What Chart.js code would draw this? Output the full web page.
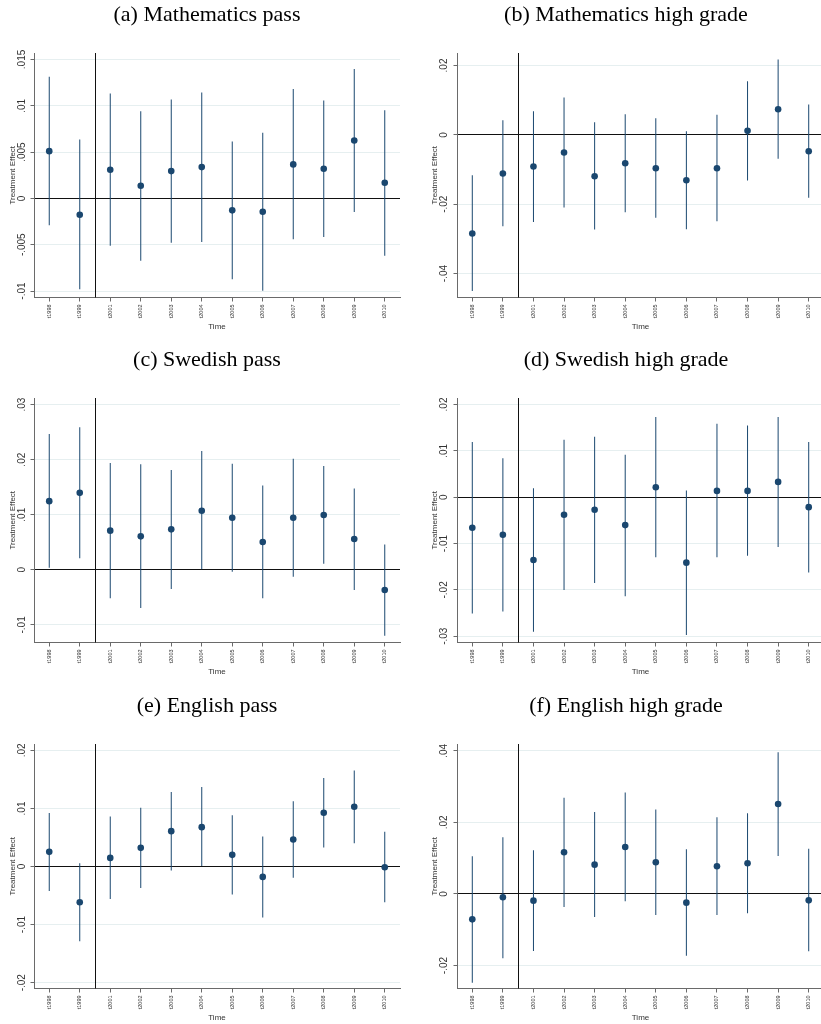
<!DOCTYPE html>
<html>
<head>
<meta charset="utf-8">
<script src="https://cdn.jsdelivr.net/npm/chart.js@4.4.1/dist/chart.umd.min.js"></script>
<style>
  html, body { margin: 0; padding: 0; background: #ffffff; width: 821px; height: 1024px; overflow: hidden; }
  canvas { position: absolute; }
</style>
</head>
<body>
<canvas id="panelA"></canvas>
<canvas id="panelB"></canvas>
<canvas id="panelC"></canvas>
<canvas id="panelD"></canvas>
<canvas id="panelE"></canvas>
<canvas id="panelF"></canvas>
<script>
// Event-study years (2000 is the omitted reference year)
const years = ['t1998', 't1999', 't2001', 't2002', 't2003', 't2004', 't2005', 't2006', 't2007', 't2008', 't2009', 't2010'];
// Reform timing: vertical marker between t1999 and t2001
const reformPosition = 1.5;

// (a) Mathematics pass
const mathPassEst  = [0.0051, -0.00176, 0.00309, 0.00137, 0.00295, 0.00338, -0.00129, -0.00144, 0.00367, 0.0032, 0.00626, 0.00169];
const mathPassLow  = [-0.00291, -0.00982, -0.00511, -0.00673, -0.00478, -0.00471, -0.00874, -0.00996, -0.00442, -0.00417, -0.00147, -0.00619];
const mathPassHigh = [0.01313, 0.00637, 0.01133, 0.00942, 0.01068, 0.01144, 0.00615, 0.00709, 0.0118, 0.01058, 0.01396, 0.00953];
const mathPassTicks = [-0.01, -0.005, 0, 0.005, 0.01, 0.015];
const mathPassTickLabels = ['-.01', '-.005', '0', '.005', '.01', '.015'];

// (b) Mathematics high grade
const mathHighEst  = [-0.02846, -0.01115, -0.00913, -0.0051, -0.01192, -0.00817, -0.00962, -0.01308, -0.00962, 0.00115, 0.0074, -0.00471];
const mathHighLow  = [-0.045, -0.02635, -0.0251, -0.02096, -0.02731, -0.02231, -0.02394, -0.02721, -0.0249, -0.01317, -0.00692, -0.01817];
const mathHighHigh = [-0.01163, 0.00423, 0.00683, 0.01077, 0.00365, 0.00596, 0.00481, 0.00106, 0.00577, 0.01548, 0.02173, 0.00875];
const mathHighTicks = [-0.04, -0.02, 0, 0.02];
const mathHighTickLabels = ['-.04', '-.02', '0', '.02'];

// (c) Swedish pass
const swePassEst  = [0.01247, 0.01398, 0.00711, 0.00608, 0.00735, 0.01072, 0.00946, 0.00506, 0.00946, 0.00994, 0.0056, -0.00367];
const swePassLow  = [0.00036, 0.00211, -0.00518, -0.00693, -0.00349, 0.0, -0.00036, -0.00518, -0.00127, 0.00108, -0.00367, -0.01199];
const swePassHigh = [0.02464, 0.0259, 0.0194, 0.01916, 0.01813, 0.02157, 0.01928, 0.0153, 0.02018, 0.01886, 0.01476, 0.00458];
const swePassTicks = [-0.01, 0, 0.01, 0.02, 0.03];
const swePassTickLabels = ['-.01', '0', '.01', '.02', '.03'];

// (d) Swedish high grade
const sweHighEst  = [-0.0066, -0.0081, -0.01355, -0.0038, -0.00272, -0.00602, 0.00215, -0.01412, 0.00136, 0.00136, 0.0033, -0.00215];
const sweHighLow  = [-0.02509, -0.02466, -0.02903, -0.02, -0.0185, -0.02136, -0.01297, -0.02975, -0.01297, -0.01262, -0.01075, -0.01627];
const sweHighHigh = [0.0119, 0.00839, 0.00194, 0.0124, 0.01305, 0.00918, 0.01728, 0.00143, 0.01584, 0.01548, 0.01728, 0.0119];
const sweHighTicks = [-0.03, -0.02, -0.01, 0, 0.01, 0.02];
const sweHighTickLabels = ['-.03', '-.02', '-.01', '0', '.01', '.02'];

// (e) English pass
const engPassEst  = [0.00253, -0.00615, 0.00149, 0.00322, 0.00609, 0.00678, 0.00201, -0.00178, 0.00466, 0.00925, 0.01029, -0.00011];
const engPassLow  = [-0.0042, -0.01287, -0.00557, -0.00368, -0.00069, 0.0, -0.00483, -0.00879, -0.00195, 0.00328, 0.00402, -0.00615];
const engPassHigh = [0.0092, 0.00057, 0.00862, 0.01011, 0.01282, 0.01368, 0.00885, 0.00517, 0.01126, 0.01523, 0.01655, 0.00598];
const engPassTicks = [-0.02, -0.01, 0, 0.01, 0.02];
const engPassTickLabels = ['-.02', '-.01', '0', '.01', '.02'];

// (f) English high grade
const engHighEst  = [-0.00708, -0.00093, -0.00186, 0.01164, 0.0082, 0.01313, 0.00885, -0.00242, 0.00773, 0.00857, 0.02515, -0.00177];
const engHighLow  = [-0.02478, -0.01798, -0.01593, -0.00363, -0.00643, -0.00205, -0.00587, -0.01723, -0.00587, -0.0054, 0.01062, -0.01602];
const engHighHigh = [0.01053, 0.01584, 0.0122, 0.02692, 0.02292, 0.02832, 0.02357, 0.01248, 0.02143, 0.02254, 0.03959, 0.01267];
const engHighTicks = [-0.02, 0, 0.02, 0.04];
const engHighTickLabels = ['-.02', '0', '.02', '.04'];

const NAVY = '#1a476f';
const GRID = '#e6eff0';
const AXIS = '#6a6a6a';
const TEXT = '#333333';
const SANS = '"Liberation Sans", Arial, sans-serif';
const SERIF = '"Liberation Serif", "Times New Roman", serif';
const Y_TICK_LEN = 3.5;

// Vertical line marking the reform
const reformLine = {
  id: 'reformLine',
  beforeDatasetsDraw(chart) {
    const { ctx, chartArea, scales } = chart;
    const px = Math.round(scales.x.getPixelForValue(reformPosition)) + 0.5;
    ctx.save();
    ctx.strokeStyle = '#111111';
    ctx.lineWidth = 1;
    ctx.beginPath();
    ctx.moveTo(px, chartArea.top);
    ctx.lineTo(px, chartArea.bottom);
    ctx.stroke();
    ctx.restore();
  }
};

const measureCtx = document.createElement('canvas').getContext('2d');
measureCtx.font = '10px ' + SANS;

const panels = [
  { id: 'panelA', title: '(a) Mathematics pass', est: mathPassEst, low: mathPassLow, high: mathPassHigh,
    ticks: mathPassTicks, tickLabels: mathPassTickLabels, min: -0.0107, max: 0.0157, col: 0, row: 0 },
  { id: 'panelB', title: '(b) Mathematics high grade', est: mathHighEst, low: mathHighLow, high: mathHighHigh,
    ticks: mathHighTicks, tickLabels: mathHighTickLabels, min: -0.0469, max: 0.0236, col: 1, row: 0 },
  { id: 'panelC', title: '(c) Swedish pass', est: swePassEst, low: swePassLow, high: swePassHigh,
    ticks: swePassTicks, tickLabels: swePassTickLabels, min: -0.0132, max: 0.0312, col: 0, row: 1 },
  { id: 'panelD', title: '(d) Swedish high grade', est: sweHighEst, low: sweHighLow, high: sweHighHigh,
    ticks: sweHighTicks, tickLabels: sweHighTickLabels, min: -0.03135, max: 0.0214, col: 1, row: 1 },
  { id: 'panelE', title: '(e) English pass', est: engPassEst, low: engPassLow, high: engPassHigh,
    ticks: engPassTicks, tickLabels: engPassTickLabels, min: -0.0210, max: 0.0211, col: 0, row: 2 },
  { id: 'panelF', title: '(f) English high grade', est: engHighEst, low: engHighLow, high: engHighHigh,
    ticks: engHighTicks, tickLabels: engHighTickLabels, min: -0.0264, max: 0.0419, col: 1, row: 2 }
];

const rowTops = [0, 345, 691];
const PANEL_H = 345;
const columns = [
  { left: 0,   width: 414, pad: 14, yWidth: 20, labelCenter: 11.6, yTitleX: 12.7 },
  { left: 410, width: 432, pad: 18, yWidth: 29, labelCenter: 13.0, yTitleX: 25.0 }
];

panels.forEach(p => {
  const col = columns[p.col];
  const canvas = document.getElementById(p.id);
  canvas.width = col.width;
  canvas.height = PANEL_H;
  canvas.style.left = col.left + 'px';
  canvas.style.top = rowTops[p.row] + 'px';
  canvas.style.width = col.width + 'px';
  canvas.style.height = PANEL_H + 'px';

  const widest = Math.max(...p.tickLabels.map(s => measureCtx.measureText(s).width));
  const yLabelPad = col.labelCenter - Y_TICK_LEN - widest / 2;
  const yTitlePad = col.yTitleX - col.pad - 4.8;

  new Chart(canvas, {
    type: 'bar',
    data: {
      labels: years,
      datasets: [
        {
          type: 'line',
          data: p.est,
          showLine: false,
          pointRadius: 3.3,
          pointHoverRadius: 3.3,
          pointBackgroundColor: NAVY,
          pointBorderWidth: 0,
          order: 0
        },
        {
          type: 'bar',
          data: p.low.map((lo, i) => [lo, p.high[i]]),
          backgroundColor: NAVY,
          barThickness: 1,
          inflateAmount: 0,
          borderWidth: 0,
          order: 1
        }
      ]
    },
    options: {
      responsive: false,
      animation: false,
      devicePixelRatio: 1,
      events: [],
      layout: { padding: { left: col.pad, right: col.pad, top: 0, bottom: 0 } },
      plugins: {
        legend: { display: false },
        tooltip: { enabled: false },
        title: {
          display: true,
          text: p.title,
          color: '#000000',
          font: { family: SERIF, size: 22, weight: 'normal' },
          padding: { top: 2, bottom: 24.6 }
        }
      },
      scales: {
        x: {
          type: 'category',
          offset: true,
          grid: { offset: false, drawOnChartArea: false, tickLength: 4, tickColor: AXIS, tickWidth: 1 },
          border: { color: AXIS, width: 1 },
          ticks: {
            autoSkip: false, minRotation: 90, maxRotation: 90, padding: 3,
            color: TEXT, font: { family: SANS, size: 5.5 }
          },
          title: {
            display: true, text: 'Time', color: TEXT,
            font: { family: SANS, size: 8 }, padding: { top: 0, bottom: 13.2 }
          },
          afterFit: s => { s.height = 47.5; }
        },
        y: {
          type: 'linear',
          min: p.min,
          max: p.max,
          afterBuildTicks: s => { s.ticks = p.ticks.map(v => ({ value: v })); },
          grid: {
            color: c => (c.tick && c.tick.value === 0) ? '#111111' : GRID,
            lineWidth: 1,
            tickLength: Y_TICK_LEN,
            tickColor: AXIS,
            tickWidth: 1
          },
          border: { color: AXIS, width: 1 },
          ticks: {
            minRotation: 90, maxRotation: 90, crossAlign: 'center', padding: yLabelPad,
            color: TEXT, font: { family: SANS, size: 10 },
            callback: (v, i) => p.tickLabels[i]
          },
          title: {
            display: true, text: 'Treatment Effect', color: TEXT,
            font: { family: SANS, size: 8 }, padding: { top: yTitlePad, bottom: 0 }
          },
          afterFit: s => { s.width = col.yWidth; }
        }
      }
    },
    plugins: [reformLine]
  });
});
</script>
</body>
</html>
